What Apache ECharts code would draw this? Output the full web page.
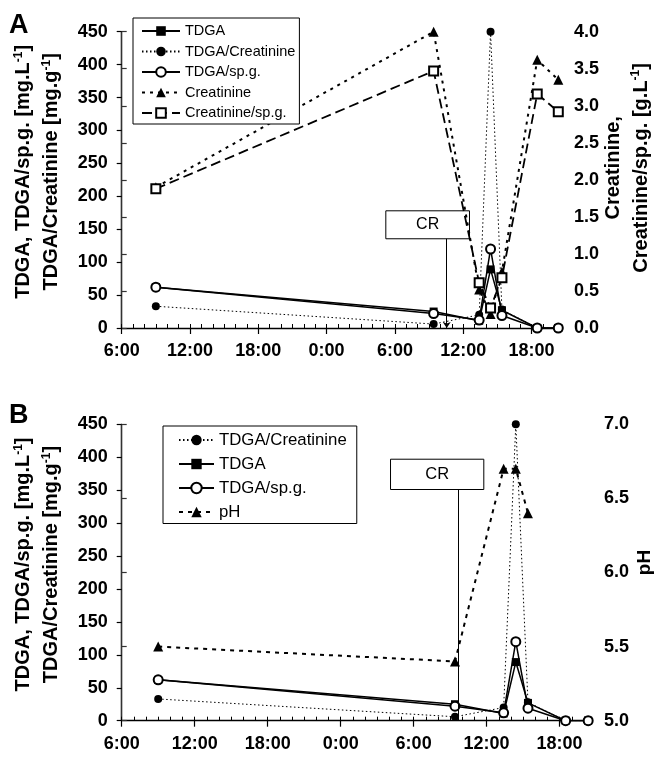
<!DOCTYPE html>
<html>
<head>
<meta charset="utf-8">
<script src="https://cdn.jsdelivr.net/npm/echarts@6/dist/echarts.min.js"></script>
<style>html,body{margin:0;padding:0;background:#fff}#c{width:655px;height:759px}</style>
</head>
<body>
<div id="c"></div>
<script>
// ---- data (hours after 6:00 of day 1) ----
const times = [3, 27.4, 31.4, 32.4, 33.4, 36.5, 38.35];
const tdga = [62, 25, 11, 89, 27, 0, 0];
const tdgaCreat = [33, 6, 20, 450, 28, 0, 0];
const tdgaSpg = [62, 22, 12, 120, 19, 0, 0];
const creat = [1.9, 4.0, 0.52, 0.19, 0.76, 3.62, 3.35];
const creatSpg = [1.88, 3.47, 0.61, 0.27, 0.68, 3.16, 2.92];
const phTimes = [3, 27.4, 31.4, 32.4, 33.4];
const ph = [5.5, 5.4, 6.7, 6.7, 6.4];
const xTickHours = [0, 6, 12, 18, 24, 30, 36];
const crA = {time: 28.55, boxFrom: 23.2, boxTo: 30.55, yTop: 178, yBottom: 135.5};
const crB = {time: 27.66, boxFrom: 22.1, boxTo: 29.77, yTop: 397, yBottom: 351};

const FF = '"Liberation Sans", Arial, Helvetica, sans-serif';
const pair = (xs, ys) => xs.map((t, i) => [t, ys[i]]);
const fmtTime = v => xTickHours.includes(v) ? ((6 + v) % 24) + ':00' : '';

function xAxes(grid) {
  return [{
    type: 'value', gridIndex: grid, min: 0, max: 38.5, interval: 6,
    axisLine: {show: true, onZero: false, lineStyle: {color: '#000', width: 1.3}},
    axisTick: {show: true, length: 6, lineStyle: {color: '#000', width: 1.2}},
    axisLabel: {formatter: fmtTime, fontSize: 18, fontWeight: 'bold', color: '#000', fontFamily: FF, margin: 14, showMaxLabel: false},
    splitLine: {show: false}
  }, {
    type: 'value', gridIndex: grid, min: 0, max: 38.5, interval: 1,
    axisLine: {show: false},
    axisTick: {show: true, length: 4, lineStyle: {color: '#000', width: 1}},
    axisLabel: {show: false}, splitLine: {show: false}
  }];
}
const nameRich = {
  b: {fontSize: 20, fontWeight: 'bold', fontFamily: FF, color: '#000', lineHeight: 28},
  s: {fontSize: 12, fontWeight: 'bold', fontFamily: FF, color: '#000', lineHeight: 12, verticalAlign: 'top', padding: [3, 0, 0, 0]}
};
function leftY(grid) {
  return {
    type: 'value', gridIndex: grid, min: 0, max: 450, interval: 50, position: 'left',
    name: '{b|TDGA, TDGA/sp.g. [mg.L}{s|-1}{b|]}\n{b|TDGA/Creatinine [mg.g}{s|-1}{b|]}',
    nameLocation: 'middle', nameRotate: 90, nameGap: 56, nameMoveOverlap: false,
    nameTextStyle: {rich: nameRich, padding: [0, 0, 0, 16]},
    axisLine: {show: true, lineStyle: {color: '#000', width: 1.3}},
    axisTick: {show: true, length: 5, lineStyle: {color: '#000', width: 1.2}},
    axisLabel: {fontSize: 18, fontWeight: 'bold', color: '#000', fontFamily: FF, margin: 14},
    splitLine: {show: false}
  };
}
const common = {showSymbol: true, symbolKeepAspect: true, animation: false, z: 3};

const option = {
  backgroundColor: '#fff',
  animation: false,
  title: [
    {text: 'A', left: 9, top: 12, padding: 0, textStyle: {fontSize: 27, fontWeight: 'bold', color: '#000', fontFamily: FF}},
    {text: 'B', left: 9, top: 402, padding: 0, textStyle: {fontSize: 27, fontWeight: 'bold', color: '#000', fontFamily: FF}}
  ],
  legend: [{
    left: 133, top: 18, orient: 'vertical',
    data: ['TDGA', 'TDGA/Creatinine', 'TDGA/sp.g.', 'Creatinine', 'Creatinine/sp.g.'],
    itemWidth: 38, itemHeight: 12, itemGap: 4.5, padding: [5, 4, 3, 8],
    borderColor: '#000', borderWidth: 1, backgroundColor: '#fff',
    textStyle: {fontSize: 14.5, color: '#000', fontFamily: FF, lineHeight: 16}
  }, {
    left: 163, top: 426, orient: 'vertical',
    data: ['TDGA/Creatinine', 'TDGA', 'TDGA/sp.g.', 'pH'],
    itemWidth: 35, itemHeight: 13, itemGap: 5, padding: [4.5, 10, 2, 15],
    borderColor: '#000', borderWidth: 1, backgroundColor: '#fff',
    textStyle: {fontSize: 16.8, color: '#000', fontFamily: FF, lineHeight: 19}
  }],
  grid: [
    {left: 121.7, top: 31.7, width: 438.3, height: 296.3, outerBoundsMode: 'none', containLabel: false},
    {left: 121.7, top: 424.3, width: 468.3, height: 296.4, outerBoundsMode: 'none', containLabel: false}
  ],
  xAxis: [...xAxes(0), ...xAxes(1)],
  yAxis: [
    leftY(0),
    {
      type: 'value', gridIndex: 0, min: 0, max: 4, interval: 0.5, position: 'right',
      name: '{b|Creatinine,}\n{b|Creatinine/sp.g. [g.L}{s|-1}{b|]}',
      nameLocation: 'middle', nameRotate: 90, nameGap: 39, nameMoveOverlap: false,
      nameTextStyle: {rich: nameRich, padding: [0, 0, 0, 24]},
      axisLine: {show: true, lineStyle: {color: '#333', width: 1.3}},
      axisTick: {show: true, length: 5, lineStyle: {color: '#333', width: 1.2}},
      axisLabel: {fontSize: 18, fontWeight: 'bold', color: '#000', fontFamily: FF, margin: 14, formatter: v => v.toFixed(1)},
      splitLine: {show: false}
    },
    leftY(1),
    {
      type: 'value', gridIndex: 1, min: 5, max: 7, interval: 0.5, position: 'right',
      name: 'pH', nameLocation: 'middle', nameRotate: 90, nameGap: 45, nameMoveOverlap: false,
      nameTextStyle: {fontSize: 19, fontWeight: 'bold', color: '#000', fontFamily: FF, lineHeight: 20, padding: [0, 0, 0, 20]},
      axisLine: {show: true, lineStyle: {color: '#333', width: 1.3}},
      axisTick: {show: true, length: 5, lineStyle: {color: '#333', width: 1.2}},
      axisLabel: {fontSize: 18, fontWeight: 'bold', color: '#000', fontFamily: FF, margin: 14, formatter: v => v.toFixed(1)},
      splitLine: {show: false}
    }
  ],
  series: [
    // ---- panel A ----
    {...common, type: 'line', name: 'Creatinine', xAxisIndex: 0, yAxisIndex: 1, data: pair(times, creat),
      symbol: 'triangle', symbolSize: 10, itemStyle: {color: '#000'},
      lineStyle: {color: '#000', width: 2, type: [3, 5]}},
    {...common, type: 'line', name: 'Creatinine/sp.g.', xAxisIndex: 0, yAxisIndex: 1, data: pair(times, creatSpg),
      symbol: 'emptyRect', symbolSize: 9, itemStyle: {color: '#000', borderWidth: 1.2},
      lineStyle: {color: '#000', width: 1.8, type: [10, 5]}},
    {...common, type: 'line', name: 'TDGA/Creatinine', xAxisIndex: 0, yAxisIndex: 0, data: pair(times, tdgaCreat),
      symbol: 'circle', symbolSize: 8, itemStyle: {color: '#000'},
      lineStyle: {color: '#000', width: 1, type: [1.5, 2.5]}},
    {...common, type: 'line', name: 'TDGA', xAxisIndex: 0, yAxisIndex: 0, data: pair(times, tdga),
      symbol: 'rect', symbolSize: 8, itemStyle: {color: '#000'},
      lineStyle: {color: '#000', width: 1.5, type: 'solid'},
      markArea: {silent: true, z: 1, itemStyle: {color: '#fff', borderColor: '#000', borderWidth: 1},
        label: {show: true, position: 'inside', color: '#000', fontSize: 16, fontFamily: FF},
        data: [[{name: 'CR', coord: [crA.boxFrom, crA.yTop]}, {coord: [crA.boxTo, crA.yBottom]}]]},
      markLine: {silent: true, symbol: ['none', 'arrow'], symbolSize: 6, animation: false,
        lineStyle: {color: '#000', width: 1, type: 'solid'}, label: {show: false},
        data: [[{coord: [crA.time, crA.yBottom]}, {coord: [crA.time, 0]}]]}},
    {...common, type: 'line', name: 'TDGA/sp.g.', xAxisIndex: 0, yAxisIndex: 0, data: pair(times, tdgaSpg),
      symbol: 'emptyCircle', symbolSize: 9, itemStyle: {color: '#000', borderWidth: 1.2},
      lineStyle: {color: '#000', width: 1.5, type: 'solid'}},
    // ---- panel B ----
    {...common, type: 'line', name: 'pH', xAxisIndex: 2, yAxisIndex: 3, data: pair(phTimes, ph),
      symbol: 'triangle', symbolSize: 10, itemStyle: {color: '#000'},
      lineStyle: {color: '#000', width: 2, type: [4, 5]}},
    {...common, type: 'line', name: 'TDGA/Creatinine', xAxisIndex: 2, yAxisIndex: 2, data: pair(times, tdgaCreat),
      symbol: 'circle', symbolSize: 8, itemStyle: {color: '#000'},
      lineStyle: {color: '#000', width: 1, type: [1.5, 2.5]}},
    {...common, type: 'line', name: 'TDGA', xAxisIndex: 2, yAxisIndex: 2, data: pair(times, tdga),
      symbol: 'rect', symbolSize: 8, itemStyle: {color: '#000'},
      lineStyle: {color: '#000', width: 1.5, type: 'solid'},
      markArea: {silent: true, z: 1, itemStyle: {color: '#fff', borderColor: '#000', borderWidth: 1},
        label: {show: true, position: 'inside', color: '#000', fontSize: 16.5, fontFamily: FF},
        data: [[{name: 'CR', coord: [crB.boxFrom, crB.yTop]}, {coord: [crB.boxTo, crB.yBottom]}]]},
      markLine: {silent: true, symbol: ['none', 'none'], animation: false,
        lineStyle: {color: '#000', width: 1, type: 'solid'}, label: {show: false},
        data: [[{coord: [crB.time, crB.yBottom]}, {coord: [crB.time, 0]}]]}},
    {...common, type: 'line', name: 'TDGA/sp.g.', xAxisIndex: 2, yAxisIndex: 2, data: pair(times, tdgaSpg),
      symbol: 'emptyCircle', symbolSize: 9, itemStyle: {color: '#000', borderWidth: 1.2},
      lineStyle: {color: '#000', width: 1.5, type: 'solid'}}
  ]
};
const chart = echarts.init(document.getElementById('c'), null, {renderer: 'canvas'});
chart.setOption(option);
</script>
</body>
</html>
